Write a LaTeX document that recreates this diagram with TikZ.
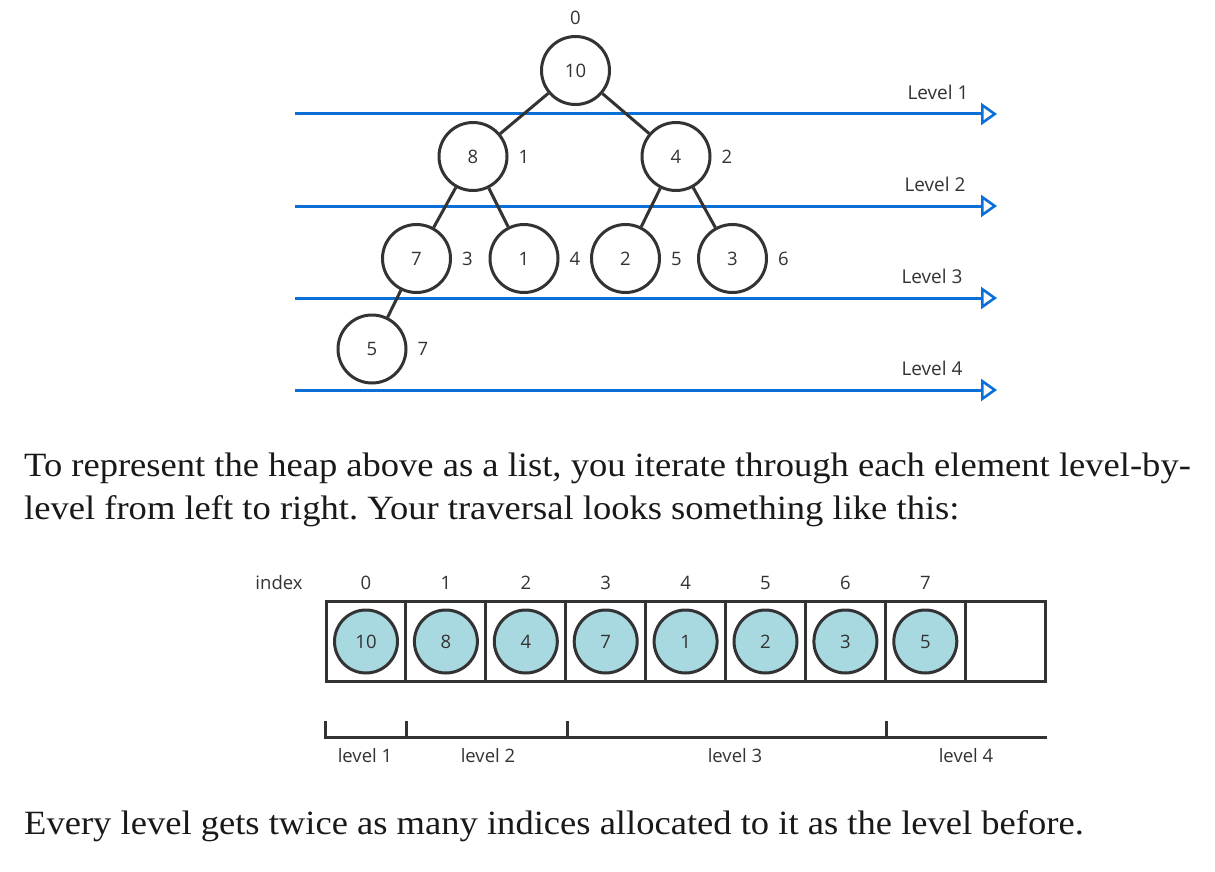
\documentclass[tikz,border=0pt]{standalone}
\usepackage{fontspec}
\setmainfont{Liberation Serif}
\setsansfont{Open Sans}
\newfontfamily\bodyfont[FakeStretch=1.075]{Liberation Serif}
\usetikzlibrary{arrows.meta}
\definecolor{heapgray}{HTML}{333333}
\definecolor{levelblue}{HTML}{0A6FD6}
\definecolor{cellfill}{HTML}{A8D9E1}
\tikzset{
  heapnode/.style={circle, draw=heapgray, line width=3pt, minimum size=68pt, inner sep=0pt,
    text=heapgray, font=\sffamily\fontsize{18.5}{18.5}\selectfont},
  listnode/.style={heapnode, fill=cellfill, minimum size=63pt},
  cellbox/.style={draw=heapgray, line width=3pt, minimum width=79.9pt, minimum height=80pt, inner sep=0pt},
  idx/.style={text=heapgray, font=\sffamily\fontsize{18.5}{18.5}\selectfont, inner sep=0pt},
  lvl/.style={text=heapgray, font=\sffamily\fontsize{19}{19}\selectfont, inner sep=0pt},
  lvlsmall/.style={text=heapgray, font=\sffamily\fontsize{18.5}{18.5}\selectfont, inner sep=0pt},
  edge/.style={draw=heapgray, line width=3pt},
  levelline/.style={draw=levelblue, line width=3pt,
    -{Triangle[open, length=16pt, width=22pt, line width=2.6pt, fill=white]}},
  bodytext/.style={anchor=base west, inner sep=0pt, text=black!90,
    font=\bodyfont\frenchspacing\fontsize{34}{43}\selectfont}
}
\begin{document}
\begin{tikzpicture}[x=1pt, y=-1pt]
  %%%%% START %%%%%
  \useasboundingbox[fill=white] (0,0) rectangle (1215,872);

  % level lines
  \foreach \y/\k/\lx in {114/1/938, 206/2/935, 298/3/932, 390/4/932} {
    \coordinate (ls\k) at (295,\y);
    \coordinate (le\k) at (997,\y);
    \draw[levelline] (ls\k) -- (le\k);
    \node[lvl] (lv\k) at (\lx,\y-22) {Level \k};
  }

  % heap as a tree
  \node[heapnode, label={[idx, label distance=10pt]90:0}] (t0) at (575.5,70.5) {10};
  \node[heapnode, label={[idx, label distance=10pt]0:1}] (t1) at (473,156.5) {8};
  \node[heapnode, label={[idx, label distance=10pt]0:2}] (t2) at (676,156.5) {4};
  \node[heapnode, label={[idx, label distance=10pt]0:3}] (t3) at (416.5,258.5) {7};
  \node[heapnode, label={[idx, label distance=10pt]0:4}] (t4) at (524,258.5) {1};
  \node[heapnode, label={[idx, label distance=10pt]0:5}] (t5) at (625.5,258.5) {2};
  \node[heapnode, label={[idx, label distance=10pt]0:6}] (t6) at (732.5,258.5) {3};
  \node[heapnode, label={[idx, label distance=10pt]0:7}] (t7) at (372,349) {5};

  \draw[edge] (t0) -- (t1);
  \draw[edge] (t0) -- (t2);
  \draw[edge] (t1) -- (t3);
  \draw[edge] (t1) -- (t4);
  \draw[edge] (t2) -- (t5);
  \draw[edge] (t2) -- (t6);
  \draw[edge] (t3) -- (t7);

  % text
  \node[bodytext] (p1) at (24,476) {To represent the heap above as a list, you iterate through each element level-by-};
  \node[bodytext] (p2) at (24,519) {level from left to right. Your traversal looks something like this:};

  % heap as a list
  \node[idx] (ix) at (279,583) {index};
  \foreach \v [count=\i from 0] in {10,8,4,7,1,2,3,5} {
    \node[cellbox] (c\i) at (366+79.9*\i,641.5) {};
    \node[listnode] (l\i) at (c\i.center) {\v};
    \node[idx] (n\i) at (366+79.9*\i,583) {\i};
  }
  \node[cellbox] (c8) at (366+79.9*8,641.5) {};

  % ruler
  \draw[heapgray, line width=3pt] (325,721) -- (325,737) -- (1047,737);
  \foreach \x in {406,567,886}
    \draw[heapgray, line width=3pt] (\x,721) -- (\x,737);
  \node[lvlsmall] (r1) at (365,756) {level 1};
  \node[lvlsmall] (r2) at (488,756) {level 2};
  \node[lvlsmall] (r3) at (735,756) {level 3};
  \node[lvlsmall] (r4) at (966,756) {level 4};

  \node[bodytext] (p3) at (24,834) {Every level gets twice as many indices allocated to it as the level before.};
  %%%%% END %%%%%
\end{tikzpicture}
\end{document}
